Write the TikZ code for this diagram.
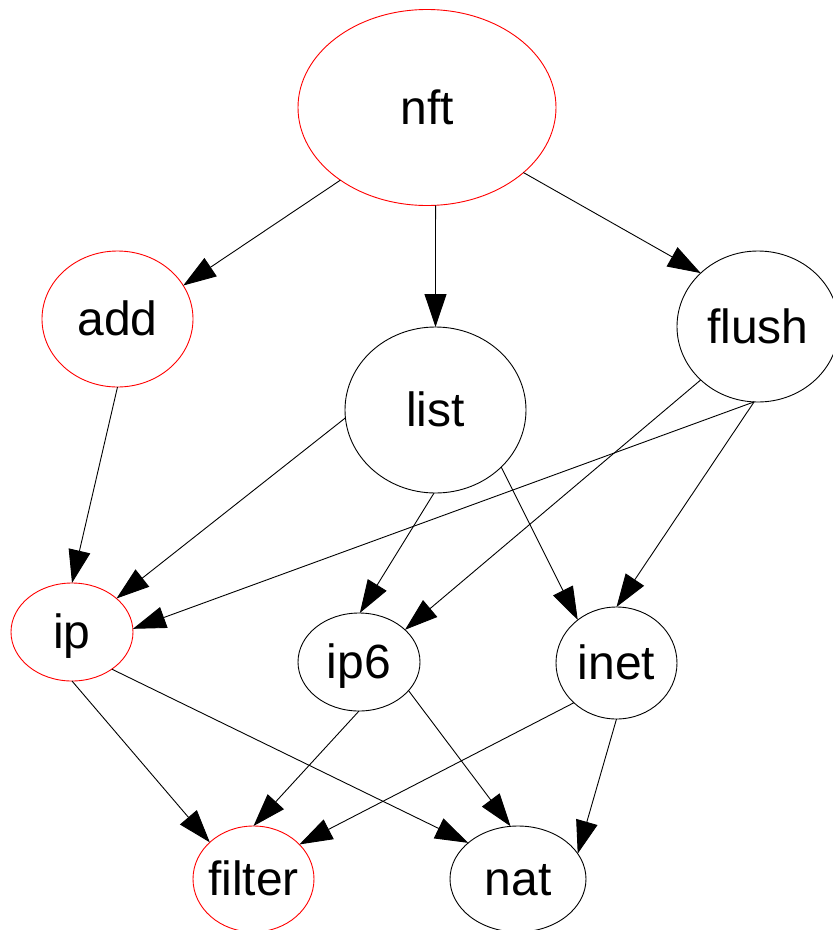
\documentclass[tikz,border=0pt]{standalone}
\usepackage{fontspec}
\setmainfont{Liberation Sans}
\usetikzlibrary{arrows.meta,shapes.geometric}
\begin{document}
\begin{tikzpicture}[x=1pt,y=-1pt,
  gnode/.style={ellipse, draw=black, line width=0.9pt, inner sep=0pt, outer sep=0pt,
    font=\fontsize{48}{52}\selectfont, text height=36pt, text depth=3pt},
  rednode/.style={gnode, draw=red},
  edge/.style={draw=black, line width=0.9pt, -{Triangle[length=33pt,width=22pt]}}]
\useasboundingbox (0,0) rectangle (833,930);
\node[rednode, minimum width=258pt, minimum height=196pt] (nft) at (427,107.5) {\makebox[0pt]{nft}};
\node[rednode, minimum width=151pt, minimum height=136pt] (add) at (117.5,319) {\makebox[0pt]{add}};
\node[gnode, minimum width=181pt, minimum height=166pt] (list) at (435.5,410) {\makebox[0pt]{list}};
\node[gnode, minimum width=162pt, minimum height=151pt] (flush) at (758,326.5) {\makebox[0pt]{flush}};
\node[rednode, minimum width=122pt, minimum height=98pt] (ip) at (72,632) {\makebox[0pt]{ip}};
\node[gnode, minimum width=122pt, minimum height=98pt] (ip6) at (359,662) {\makebox[0pt]{ip6}};
\node[gnode, minimum width=121pt, minimum height=112pt] (inet) at (616.5,663) {\makebox[0pt]{inet}};
\node[rednode, minimum width=121pt, minimum height=106pt] (filter) at (253.5,879) {\makebox[0pt]{filter}};
\node[gnode, minimum width=136pt, minimum height=106pt] (nat) at (518,879) {\makebox[0pt]{nat}};
\draw[edge] (nft.-140.9) -- (add.27);
\draw[edge] (nft.-85.3) -- (list.90);
\draw[edge] (nft.-34.7) -- (flush.137.5);
\draw[edge] (add.-90) -- (ip.90);
\draw[edge] (list.185) -- (ip.37.3);
\draw[edge] (list.-91) -- (ip6.89);
\draw[edge] (list.-41.2) -- (inet.132);
\draw[edge] (flush.-93.7) -- (ip.3.8);
\draw[edge] (flush.-137) -- (ip6.35.9);
\draw[edge] (flush.-93.7) -- (inet.90);
\draw[edge] (ip.-90) -- (filter.140);
\draw[edge] (ip.-43.7) -- (nat.144.2);
\draw[edge] (ip6.-90) -- (filter.90);
\draw[edge] (ip6.-30.4) -- (nat.98.4);
\draw[edge] (inet.-137.3) -- (filter.37.3);
\draw[edge] (inet.-90) -- (nat.23.6);
\end{tikzpicture}
\end{document}
